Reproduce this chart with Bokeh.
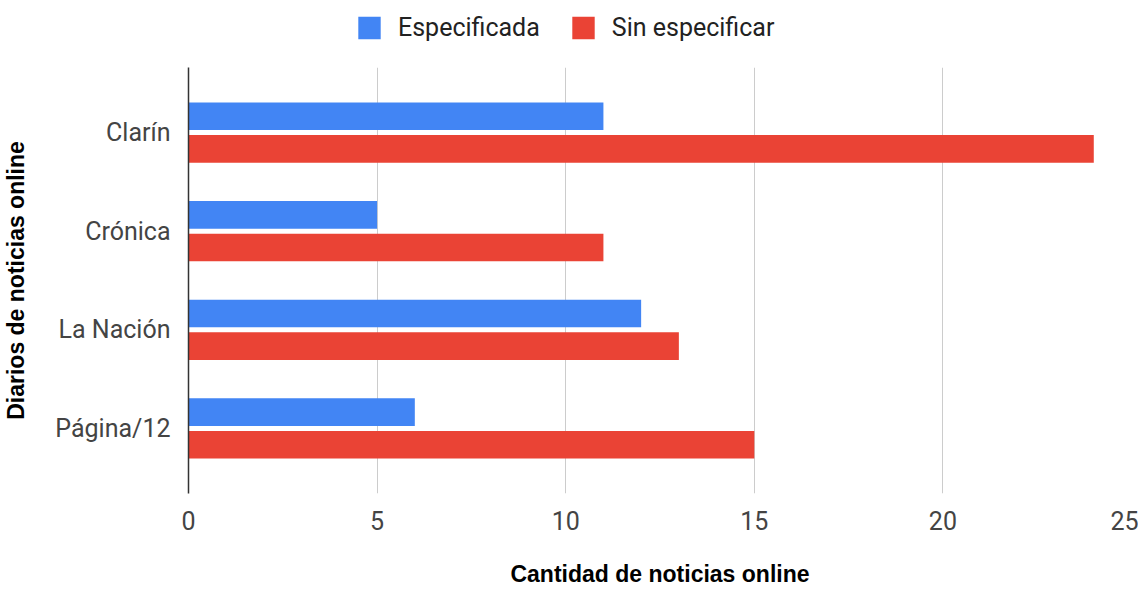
from bokeh.plotting import figure
from bokeh.layouts import column
from bokeh.models import FactorRange, ColumnDataSource, Legend, LegendItem, Range1d
from bokeh.transform import dodge
from bokeh.embed import file_html
from bokeh.resources import INLINE

diarios = ["Clarín", "Crónica", "La Nación", "Página/12"]
especificada = [11, 5, 12, 6]
sin_especificar = [24, 11, 13, 15]
series = ["Especificada", "Sin especificar"]
colors = ["#4285F4", "#EA4335"]
x_ticks = [0, 5, 10, 15, 20, 25]

factors = list(reversed(diarios))
src = ColumnDataSource(dict(diario=diarios, esp=especificada, sin=sin_especificar))

W = 1138
LEG_H = 54
MAIN_H = 535

# ---- legend strip ----
pl = figure(width=W, height=LEG_H, x_range=Range1d(0, 1), y_range=Range1d(0, 1),
            output_backend="svg", toolbar_location=None,
            x_axis_location=None, y_axis_location=None,
            min_border=0, min_border_left=0, min_border_right=0,
            min_border_top=0, min_border_bottom=0)
pl.outline_line_color = None
pl.xgrid.visible = False
pl.ygrid.visible = False
# zero-size swatch renderers used only for the legend entries
lr1 = pl.hbar(y=[0.5], right=[0], left=[0], height=0, fill_color=colors[0], line_color=None)
lr2 = pl.hbar(y=[0.5], right=[0], left=[0], height=0, fill_color=colors[1], line_color=None)
legend = Legend(items=[LegendItem(label=series[0], renderers=[lr1]),
                       LegendItem(label=series[1], renderers=[lr2])],
                orientation="horizontal", location="left",
                border_line_color=None, background_fill_alpha=0,
                label_text_font="Roboto", label_text_font_size="25px",
                label_text_color="#222222", glyph_width=28, glyph_height=28,
                label_standoff=15, spacing=29, padding=0, margin=167)
pl.add_layout(legend, "center")

# ---- main chart ----
p = figure(width=W, height=MAIN_H,
           y_range=FactorRange(factors=factors, range_padding=0.08),
           x_range=Range1d(0, 25),
           output_backend="svg", toolbar_location=None,
           min_border_left=184, min_border_right=7,
           min_border_top=13, min_border_bottom=96)

p.hbar(y=dodge("diario", 0.165, range=p.y_range), right="esp", left=0,
       height=0.28, source=src, fill_color=colors[0], line_color=None)
p.hbar(y=dodge("diario", -0.165, range=p.y_range), right="sin", left=0,
       height=0.28, source=src, fill_color=colors[1], line_color=None)

p.outline_line_color = None
p.ygrid.grid_line_color = None
p.xgrid.grid_line_color = "#cccccc"
p.xgrid.grid_line_width = 1

p.xaxis.ticker = x_ticks
p.xaxis.axis_line_color = None
p.xaxis.major_tick_line_color = None
p.xaxis.minor_tick_line_color = None
p.xaxis.major_label_standoff = 11
p.xaxis.major_label_text_font = "Roboto"
p.xaxis.major_label_text_font_size = "25px"
p.xaxis.major_label_text_color = "#444444"
p.xaxis.axis_label = "Cantidad de noticias online"
p.xaxis.axis_label_text_font = "Liberation Sans"
p.xaxis.axis_label_text_font_style = "bold"
p.xaxis.axis_label_text_font_size = "23px"
p.xaxis.axis_label_text_color = "#000000"
p.xaxis.axis_label_standoff = 28

p.yaxis.axis_line_color = "#333333"
p.yaxis.axis_line_width = 1.5
p.yaxis.major_tick_line_color = None
p.yaxis.minor_tick_line_color = None
p.yaxis.major_label_standoff = 12
p.yaxis.major_label_text_font = "Roboto"
p.yaxis.major_label_text_font_size = "25px"
p.yaxis.major_label_text_color = "#444444"
p.yaxis.axis_label = "Diarios de noticias online"
p.yaxis.axis_label_text_font = "Liberation Sans"
p.yaxis.axis_label_text_font_style = "bold"
p.yaxis.axis_label_text_font_size = "23px"
p.yaxis.axis_label_text_color = "#000000"
p.yaxis.axis_label_standoff = 23

layout = column(pl, p, spacing=0)
open("out.html", "w").write(file_html(layout, INLINE))
